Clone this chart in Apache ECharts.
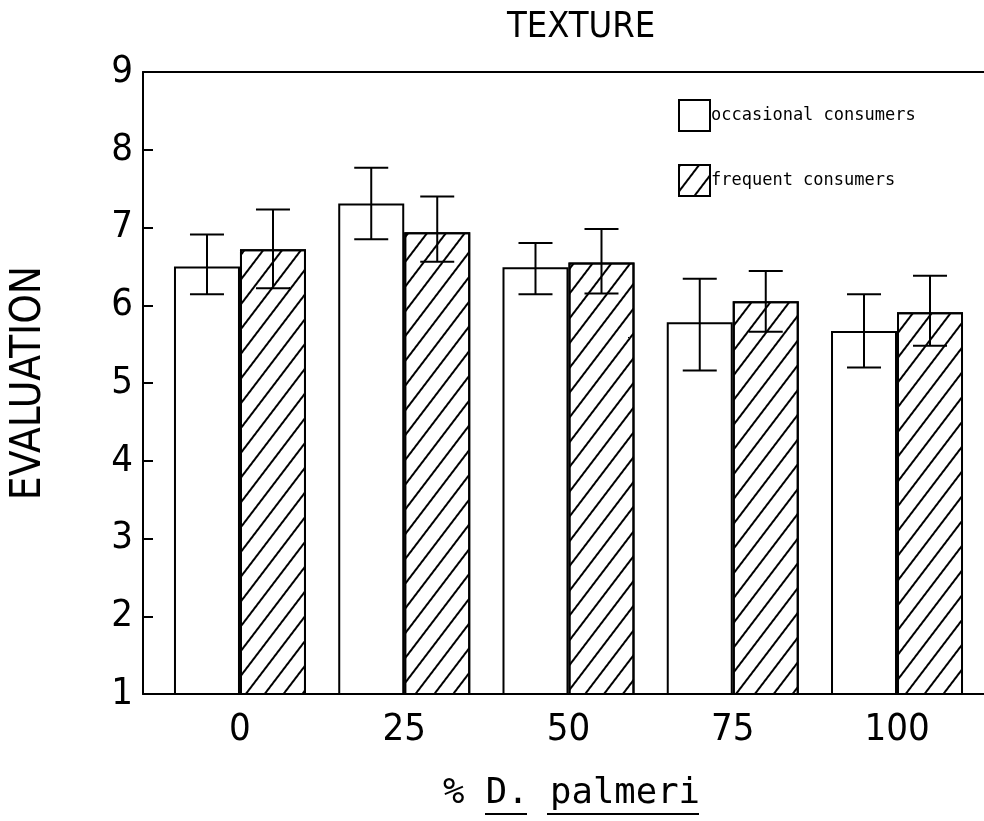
<!DOCTYPE html>
<html>
<head>
<meta charset="utf-8">
<script src="https://cdn.jsdelivr.net/npm/echarts@6/dist/echarts.min.js"></script>
<style>
  html, body { margin: 0; padding: 0; background: #fff; }
  #chart { width: 984px; height: 821px; }
</style>
</head>
<body>
<div id="chart"></div>
<script>
// Percentage of D. palmeri in the product
const pctLevels = [0, 25, 50, 75, 100];

// Texture evaluation, occasional consumers: mean and error bar ends
const occasionalMean = [6.50, 7.31, 6.49, 5.78, 5.67];
const occasionalLow  = [6.14, 6.85, 6.14, 5.16, 5.20];
const occasionalHigh = [6.91, 7.77, 6.80, 6.34, 6.14];

// Texture evaluation, frequent consumers: mean and error bar ends
const frequentMean = [6.72, 6.94, 6.55, 6.05, 5.91];
const frequentLow  = [6.22, 6.56, 6.15, 5.66, 5.48];
const frequentHigh = [7.23, 7.40, 6.98, 6.44, 6.38];

const seriesNames = ['occasional consumers', 'frequent consumers'];

const BAR_W = 66;
const CAP_HALF = 17;
const INK = '#000';

// diagonal "/" hatching for the frequent-consumer bars
const hatch = {
  symbol: 'rect',
  symbolSize: 1,
  dashArrayX: [1, 0],
  dashArrayY: [1.6, 12.4],
  rotation: -0.92,
  color: INK
};

function errorBar(offset) {
  return function (params, api) {
    const x = api.value(0);
    const lo = api.coord([x, api.value(1)]);
    const hi = api.coord([x, api.value(2)]);
    const cx = lo[0] + offset;
    const st = { stroke: INK, lineWidth: 2 };
    return {
      type: 'group',
      children: [
        { type: 'line', shape: { x1: cx, y1: hi[1], x2: cx, y2: lo[1] }, style: st },
        { type: 'line', shape: { x1: cx - CAP_HALF, y1: hi[1], x2: cx + CAP_HALF, y2: hi[1] }, style: st },
        { type: 'line', shape: { x1: cx - CAP_HALF, y1: lo[1], x2: cx + CAP_HALF, y2: lo[1] }, style: st }
      ]
    };
  };
}

const chart = echarts.init(document.getElementById('chart'), null, { renderer: 'canvas' });

const narrow = '"DejaVu Sans Condensed", "Liberation Sans Narrow", sans-serif';
const mono = '"DejaVu Sans Mono", "Liberation Mono", monospace';

chart.setOption({
  backgroundColor: '#fff',
  animation: false,
  title: {
    text: 'TEXTURE',
    left: 507,
    top: 10,
    padding: 0,
    textStyle: { fontFamily: narrow, fontSize: 36, fontWeight: 'normal', color: INK }
  },
  legend: {
    data: seriesNames,
    orient: 'vertical',
    left: 678,
    top: 99,
    padding: 0,
    itemWidth: 31,
    itemHeight: 31,
    itemGap: 32,
    icon: 'rect',
    itemStyle: { borderColor: INK, borderWidth: 2 },
    textStyle: { fontFamily: mono, fontSize: 17, color: INK, padding: [6, 0, 0, -4] }
  },
  grid: { left: 143, right: 0, top: 72, bottom: 127, containLabel: false },
  xAxis: [
    {
      type: 'value',
      position: 'bottom',
      min: -14.76,
      max: 113.24,
      splitLine: { show: false },
      axisTick: { show: false },
      axisLine: { show: true, onZero: false, lineStyle: { color: INK, width: 2 } },
      axisLabel: {
        customValues: pctLevels,
        margin: 17,
        fontFamily: narrow,
        fontSize: 38,
        color: INK
      }
    },
    {
      type: 'value',
      position: 'top',
      min: -14.76,
      max: 113.24,
      splitLine: { show: false },
      axisTick: { show: false },
      axisLabel: { show: false },
      axisLine: { show: true, onZero: false, lineStyle: { color: INK, width: 2 } }
    }
  ],
  yAxis: {
    type: 'value',
    min: 1,
    max: 9,
    interval: 1,
    name: 'EVALUATION',
    nameLocation: 'middle',
    nameRotate: 90,
    nameGap: 93,
    nameTextStyle: { fontFamily: narrow, fontSize: 42, color: INK },
    splitLine: { show: false },
    axisLine: { show: true, onZero: false, lineStyle: { color: INK, width: 2 } },
    axisTick: { show: true, inside: true, length: 10, lineStyle: { color: INK, width: 2 } },
    axisLabel: { margin: 10, fontFamily: narrow, fontSize: 38, color: INK }
  },
  series: [
    {
      name: seriesNames[0],
      type: 'bar',
      barWidth: BAR_W,
      barGap: '0%',
      itemStyle: { color: '#fff', borderColor: INK, borderWidth: 2 },
      data: pctLevels.map((x, i) => [x, occasionalMean[i]]),
      z: 2
    },
    {
      name: seriesNames[1],
      type: 'bar',
      barWidth: BAR_W,
      barGap: '0%',
      itemStyle: { color: '#fff', borderColor: INK, borderWidth: 2, decal: hatch },
      data: pctLevels.map((x, i) => [x, frequentMean[i]]),
      z: 2
    },
    {
      name: 'occasional error',
      type: 'custom',
      renderItem: errorBar(-BAR_W / 2),
      encode: { x: 0, y: [1, 2] },
      data: pctLevels.map((x, i) => [x, occasionalLow[i], occasionalHigh[i]]),
      z: 5
    },
    {
      name: 'frequent error',
      type: 'custom',
      renderItem: errorBar(BAR_W / 2),
      encode: { x: 0, y: [1, 2] },
      data: pctLevels.map((x, i) => [x, frequentLow[i], frequentHigh[i]]),
      z: 5
    }
  ],
  graphic: [
    {
      type: 'group',
      left: 443,
      top: 776,
      children: [
        {
          type: 'text',
          x: 0,
          y: 0,
          style: { text: '% D. palmeri', fontFamily: mono, fontSize: 35.6, fill: INK }
        },
        { type: 'line', shape: { x1: 42, y1: 38, x2: 84, y2: 38 }, style: { stroke: INK, lineWidth: 2 } },
        { type: 'line', shape: { x1: 104, y1: 38, x2: 256, y2: 38 }, style: { stroke: INK, lineWidth: 2 } }
      ]
    }
  ]
});
</script>
</body>
</html>
